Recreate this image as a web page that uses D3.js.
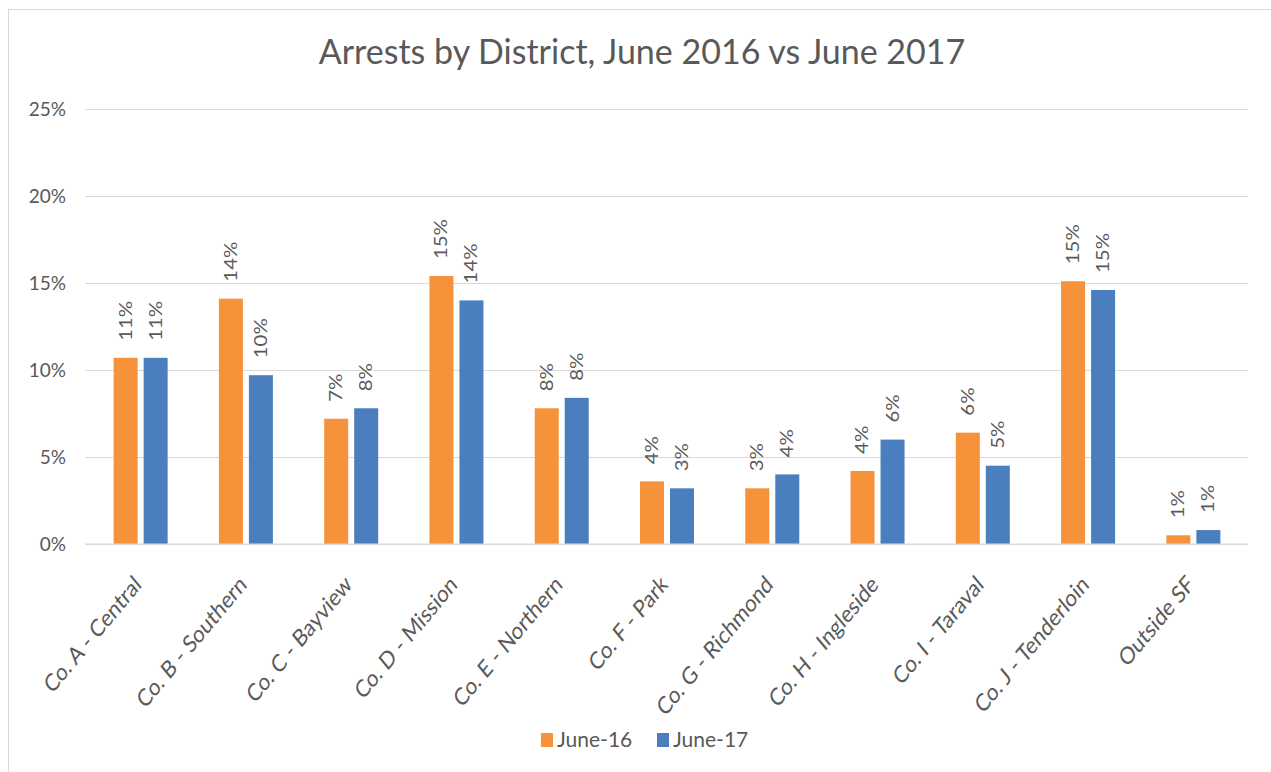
<!DOCTYPE html>
<html>
<head>
<meta charset="utf-8">
<script src="https://cdn.jsdelivr.net/npm/d3@7"></script>
<style>
	body { margin: 0; background: #fff; }
	text { font-family: Lato, "Open Sans", sans-serif; fill: #595959; }
</style>
</head>
<body>
<main></main>
<script>
// districts and the share of arrests in each
const districts = ["Co. A - Central", "Co. B - Southern", "Co. C - Bayview", "Co. D - Mission",
	"Co. E - Northern", "Co. F - Park", "Co. G - Richmond", "Co. H - Ingleside",
	"Co. I - Taraval", "Co. J - Tenderloin", "Outside SF"];
const june16 = [0.107, 0.141, 0.072, 0.154, 0.078, 0.036, 0.032, 0.042, 0.064, 0.151, 0.005];
const june17 = [0.107, 0.097, 0.078, 0.140, 0.084, 0.032, 0.040, 0.060, 0.045, 0.146, 0.008];
const seriesNames = ["June-16", "June-17"];
const colors = ["#F5923A", "#4A7EBE"];
const yTicks = [0, 0.05, 0.10, 0.15, 0.20, 0.25];

const w = 1271,
	h = 772,
	plotLeft = 88,
	plotRight = 1246,
	plotTop = 109,
	plotBottom = 544,
	stretch = 1.2, // the source picture is a bit taller than wide
	pct = d3.format(".0%");

const svg = d3.select("main")
	.append("svg")
	.attr("width", w)
	.attr("height", h)
	.style("display", "block")
	.style("background", "#fff");

// chart frame
svg.append("rect")
	.attr("x", 8.5)
	.attr("y", 9.5)
	.attr("width", w)
	.attr("height", h)
	.attr("fill", "none")
	.attr("stroke", "#d9d9d9");

const xScale = d3.scaleBand()
	.domain(districts)
	.range([plotLeft, plotRight])
	.paddingInner(0.487)
	.paddingOuter(0.2435);

const xSub = d3.scaleBand()
	.domain(seriesNames)
	.range([0, xScale.bandwidth()])
	.paddingInner(0.2);

const yScale = d3.scaleLinear()
	.domain([0, 0.25])
	.range([plotBottom, plotTop]);

// gridlines
const yAxis = d3.axisLeft(yScale)
	.tickValues(yTicks)
	.tickFormat(pct)
	.tickSize(-(1248 - 85))
	.tickPadding(19);
const gy = svg.append("g")
	.attr("transform", "translate(85,0)")
	.call(yAxis);
gy.select(".domain").remove();
gy.selectAll(".tick line").attr("stroke", "#d9d9d9").attr("stroke-width", 1.2);
gy.selectAll(".tick text")
	.style("font-size", "19px")
	.attr("fill", "#595959");

const rows = districts.map((d, i) => ({ district: d, values: [june16[i], june17[i]] }));

const groups = svg.selectAll("g.group")
	.data(rows)
	.enter()
	.append("g")
	.attr("class", "group")
	.attr("transform", (d) => "translate(" + xScale(d.district) + ",0)");

groups.selectAll("rect")
	.data((d) => d.values.map((v, j) => ({ name: seriesNames[j], value: v, j: j })))
	.enter()
	.append("rect")
	.attr("x", (d) => xSub(d.name))
	.attr("y", (d) => yScale(d.value))
	.attr("width", xSub.bandwidth())
	.attr("height", (d) => plotBottom - yScale(d.value))
	.attr("fill", (d) => colors[d.j]);

// data labels, rotated above each bar
groups.selectAll("text")
	.data((d) => d.values.map((v, j) => ({ name: seriesNames[j], value: v })))
	.enter()
	.append("text")
	.attr("transform", (d) => "translate(" + (xSub(d.name) + xSub.bandwidth() / 2) + "," + (yScale(d.value) - 17) + ") scale(1," + stretch + ") rotate(-90)")
	.attr("dy", "0.35em")
	.style("font-size", "17px")
	.text((d) => pct(Math.round(d.value * 100) / 100));

// x axis
svg.append("line")
	.attr("x1", 85)
	.attr("x2", 1248)
	.attr("y1", plotBottom)
	.attr("y2", plotBottom)
	.attr("stroke", "#d9d9d9")
	.attr("stroke-width", 1.2);

svg.selectAll("text.xlabel")
	.data(districts)
	.enter()
	.append("text")
	.attr("class", "xlabel")
	.attr("transform", (d) => "translate(" + (xScale(d) + xScale.bandwidth() / 2 + 2) + "," + (plotBottom + 42) + ") scale(1," + stretch + ") rotate(-45)")
	.attr("text-anchor", "end")
	.style("font-size", "20px")
	.text((d) => d);

// title
svg.append("text")
	.attr("x", 642)
	.attr("y", 64)
	.attr("text-anchor", "middle")
	.style("font-size", "34px")
	.text("Arrests by District, June 2016 vs June 2017");

// legend
const legend = svg.append("g")
	.attr("transform", "translate(541,733)");
const legendX = [0, 116];
seriesNames.forEach((name, i) => {
	legend.append("rect")
		.attr("x", legendX[i])
		.attr("y", 0)
		.attr("width", 12)
		.attr("height", 14)
		.attr("fill", colors[i]);
	legend.append("text")
		.attr("x", legendX[i] + 16)
		.attr("y", 14)
		.style("font-size", "21px")
		.text(name);
});
</script>
</body>
</html>
